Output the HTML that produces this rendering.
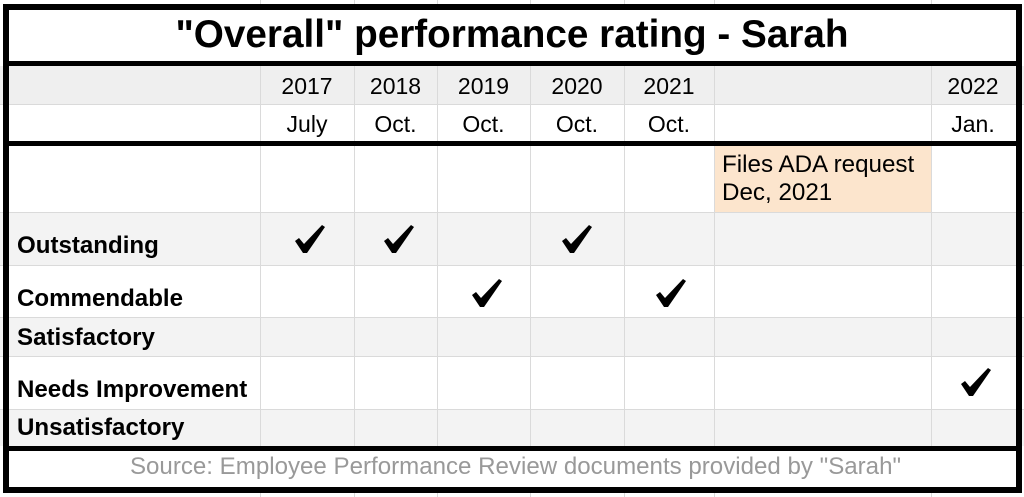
<!DOCTYPE html>
<html><head><meta charset="utf-8"><style>
body{margin:0;width:1024px;height:497px;background:#fff;position:relative;overflow:hidden;font-family:"Liberation Sans",Arial,sans-serif;}
.a{position:absolute;box-sizing:border-box;}
.h{border-top:1px solid #dadada;}
.v{background:#dadada;width:1px;}
.t{position:absolute;font-size:23px;line-height:28px;color:#000;text-align:center;white-space:nowrap;}
.l{position:absolute;left:17px;font-size:24.1px;line-height:28px;font-weight:bold;white-space:nowrap;}
</style></head><body>
<div class="a" style="left:0;top:66px;width:1024px;height:38px;background:#efefef"></div>
<div class="a" style="left:0;top:212px;width:1024px;height:53px;background:#f3f3f3"></div>
<div class="a" style="left:0;top:317px;width:1024px;height:39px;background:#f3f3f3"></div>
<div class="a" style="left:0;top:409px;width:1024px;height:37px;background:#f3f3f3"></div>
<div class="a" style="left:715px;top:146px;width:216px;height:66px;background:#fce5cd"></div>
<div class="a h" style="left:0;top:104px;width:1024px"></div>
<div class="a h" style="left:0;top:212px;width:1024px"></div>
<div class="a h" style="left:0;top:265px;width:1024px"></div>
<div class="a h" style="left:0;top:317px;width:1024px"></div>
<div class="a h" style="left:0;top:356px;width:1024px"></div>
<div class="a h" style="left:0;top:409px;width:1024px"></div>
<div class="a v" style="left:260px;top:0;height:497px"></div>
<div class="a v" style="left:354px;top:0;height:497px"></div>
<div class="a v" style="left:437px;top:0;height:497px"></div>
<div class="a v" style="left:530px;top:0;height:497px"></div>
<div class="a v" style="left:624px;top:0;height:497px"></div>
<div class="a v" style="left:714px;top:0;height:497px"></div>
<div class="a v" style="left:931px;top:0;height:497px"></div>
<div class="a" style="left:8px;top:9px;width:1008px;height:53px;background:#fff"></div>
<div class="a" style="left:8px;top:451px;width:1008px;height:36px;background:#fff"></div>
<div class="a" style="left:3px;top:4px;width:1019px;height:489px;border:6px solid #000"></div>
<div class="a" style="left:3px;top:61px;width:1019px;height:5px;background:#000"></div>
<div class="a" style="left:3px;top:141px;width:1019px;height:5px;background:#000"></div>
<div class="a" style="left:3px;top:446px;width:1019px;height:5px;background:#000"></div>
<div class="t" style="left:0;width:1024px;top:13px;font-size:38.7px;line-height:44px;font-weight:bold">"Overall" performance rating - Sarah</div>
<div class="t" style="left:260px;width:94px;top:72px">2017</div>
<div class="t" style="left:354px;width:83px;top:72px">2018</div>
<div class="t" style="left:437px;width:93px;top:72px">2019</div>
<div class="t" style="left:530px;width:94px;top:72px">2020</div>
<div class="t" style="left:624px;width:90px;top:72px">2021</div>
<div class="t" style="left:931px;width:84px;top:72px">2022</div>
<div class="t" style="left:260px;width:94px;top:110px">July</div>
<div class="t" style="left:354px;width:83px;top:110px">Oct.</div>
<div class="t" style="left:437px;width:93px;top:110px">Oct.</div>
<div class="t" style="left:530px;width:94px;top:110px">Oct.</div>
<div class="t" style="left:624px;width:90px;top:110px">Oct.</div>
<div class="t" style="left:931px;width:84px;top:110px">Jan.</div>
<div class="t" style="left:722px;top:151px;text-align:left;font-size:24.2px">Files ADA request<br>Dec, 2021</div>
<div class="l" style="top:232px">Outstanding</div>
<div class="l" style="top:285px">Commendable</div>
<div class="l" style="top:324px">Satisfactory</div>
<div class="l" style="top:376px">Needs Improvement</div>
<div class="l" style="top:414px">Unsatisfactory</div>
<div class="t" style="left:0;width:1031px;top:453px;color:#999;font-size:24.1px">Source: Employee Performance Review documents provided by "Sarah"</div>
<svg class="a" style="left:0;top:0" width="1024" height="497">
<g fill="#000">
<polygon transform="translate(295,225)" points="0,16 4,13 9,19 27,0 30,2 12,28 8,28"/>
<polygon transform="translate(384,225)" points="0,16 4,13 9,19 27,0 30,2 12,28 8,28"/>
<polygon transform="translate(562,225)" points="0,16 4,13 9,19 27,0 30,2 12,28 8,28"/>
<polygon transform="translate(472,279)" points="0,16 4,13 9,19 27,0 30,2 12,28 8,28"/>
<polygon transform="translate(656,279)" points="0,16 4,13 9,19 27,0 30,2 12,28 8,28"/>
<polygon transform="translate(961,368)" points="0,16 4,13 9,19 27,0 30,2 12,28 8,28"/>
</g></svg>
</body></html>
